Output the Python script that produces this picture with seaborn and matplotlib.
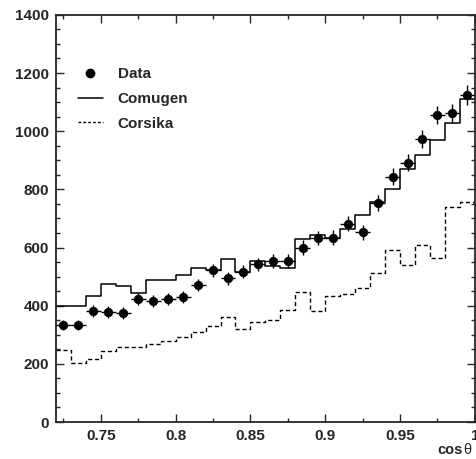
import numpy as np
import pandas as pd
import matplotlib
matplotlib.use("Agg")
import matplotlib.pyplot as plt
from matplotlib.lines import Line2D
from matplotlib.ticker import MultipleLocator
import seaborn as sns

# binning in cos(theta)
bin_lo = 0.72
bin_w = 0.01
n_bins = 28

data_counts = [334, 334, 381, 378, 375, 423, 417, 423, 431, 471, 521, 494, 517, 542,
               554, 554, 600, 632, 634, 682, 652, 753, 843, 892, 972, 1056, 1062, 1125]
data_err = [18, 18, 20, 20, 20, 21, 21, 21, 21, 22, 23, 22, 23, 23,
            24, 24, 25, 25, 25, 26, 26, 27, 29, 30, 31, 32, 33, 34]
comugen = [400, 400, 435, 474, 466, 443, 487, 490, 505, 530, 524, 562, 515, 555,
           538, 528, 628, 643, 632, 664, 711, 755, 800, 869, 917, 969, 1027, 1110]
corsika = [248, 202, 217, 244, 259, 259, 267, 279, 291, 311, 331, 362, 320, 343,
           351, 385, 446, 383, 433, 440, 461, 514, 592, 540, 610, 564, 741, 758]

edges = bin_lo + bin_w * np.arange(n_bins + 1)
centers = edges[:-1] + bin_w / 2

sns.set_style("ticks")
plt.rcParams['font.family'] = ['Liberation Sans', 'DejaVu Sans']
plt.rcParams['font.weight'] = 'bold'

fig = plt.figure(figsize=(4.76, 4.59), dpi=100)
ax = fig.add_axes([0.1176, 0.0806, 0.880, 0.887])

steps = pd.DataFrame({
    "x": np.concatenate([edges, edges]),
    "y": comugen + [comugen[-1]] + corsika + [corsika[-1]],
    "model": ["Comugen"] * (n_bins + 1) + ["Corsika"] * (n_bins + 1),
})
sns.lineplot(data=steps[steps.model == "Comugen"], x="x", y="y", color="black",
             lw=1.1, drawstyle="steps-post", ax=ax, legend=False)
sns.lineplot(data=steps[steps.model == "Corsika"], x="x", y="y", color="black",
             lw=1.0, drawstyle="steps-post", ax=ax, legend=False, linestyle=(0, (3, 2)))

pts = pd.DataFrame({"x": centers, "y": data_counts, "err": data_err})
ax.errorbar(pts.x, pts.y, yerr=pts.err, xerr=bin_w / 2, fmt="none", ecolor="black",
            elinewidth=1.0, capsize=0, zorder=3)
sns.scatterplot(data=pts, x="x", y="y", color="black", s=38, edgecolor="black",
                ax=ax, zorder=4)

ax.set_xlim(0.72, 1.0)
ax.set_ylim(0, 1400)
ax.set_xlabel("")
ax.set_ylabel("")
ax.xaxis.set_major_locator(MultipleLocator(0.05))
ax.xaxis.set_minor_locator(MultipleLocator(0.025))
ax.yaxis.set_major_locator(MultipleLocator(200))
ax.yaxis.set_minor_locator(MultipleLocator(50))
ax.set_xticks([0.75, 0.8, 0.85, 0.9, 0.95, 1.0])
ax.set_xticklabels(["0.75", "0.8", "0.85", "0.9", "0.95", "1"])
ax.tick_params(which="both", direction="in", top=True, right=True, width=1.0,
               labelsize=11, pad=5)
ax.tick_params(which="major", length=6)
ax.tick_params(which="minor", length=3)
for lab in ax.get_xticklabels() + ax.get_yticklabels():
    lab.set_fontweight("bold")
for sp in ax.spines.values():
    sp.set_linewidth(1.3)
    sp.set_visible(True)

handles = [
    Line2D([], [], marker="o", color="black", linestyle="none", markersize=6),
    Line2D([], [], color="black", lw=1.1),
    Line2D([], [], color="black", lw=1.0, linestyle=(0, (2, 1.5))),
]
ax.legend(handles, ["Data", "Comugen", "Corsika"], loc="upper left",
          bbox_to_anchor=(0.02, 0.905), frameon=False, handlelength=1.6,
          handletextpad=1.0, labelspacing=0.7, prop={"weight": "bold", "size": 11})

# axis title drawn as "cos" (bold) followed by an upright theta
fig.text(0.972, 0.004, "cos", ha="right", va="bottom", fontsize=10.5,
         fontweight="bold")
fig.text(0.973, 0.004, "θ", ha="left", va="bottom", fontsize=10.5,
         fontweight="normal")

fig.savefig("out.png", dpi=100)
